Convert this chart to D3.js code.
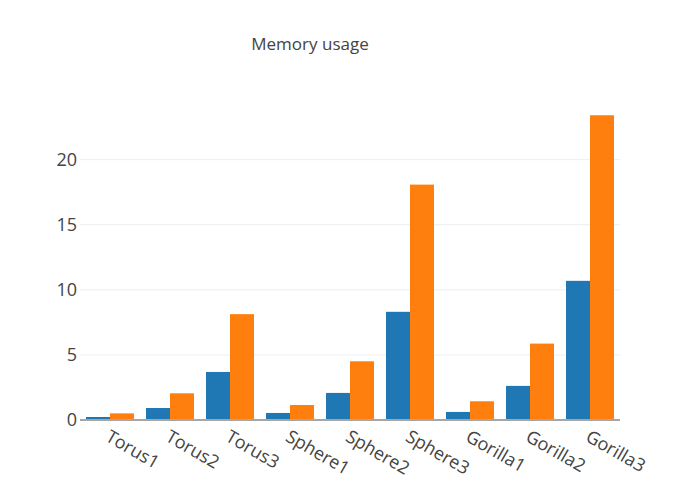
<!DOCTYPE html>
<html><head><meta charset="utf-8">
<script src="https://cdn.jsdelivr.net/npm/d3@7"></script>
<style>body{margin:0;background:#fff}svg{display:block}text{font-family:"Open Sans",sans-serif}</style>
</head><body>
<svg id="c" width="700" height="500"></svg>
<script>
const categories = ["Torus1","Torus2","Torus3","Sphere1","Sphere2","Sphere3","Gorilla1","Gorilla2","Gorilla3"];
const seriesNames = ["Series A","Series B"];
const seriesA = [0.23, 0.92, 3.69, 0.54, 2.08, 8.31, 0.62, 2.62, 10.69];
const seriesB = [0.51, 2.05, 8.13, 1.15, 4.51, 18.08, 1.44, 5.87, 23.41];
const yTicks = [0, 5, 10, 15, 20];
const colors = ["#1f77b4", "#ff7f0e"];
const title = "Memory usage";

const svg = d3.select("#c");
const m = {l:80, r:80, t:100, b:80}, W = 700, H = 500;
const x = d3.scaleBand().domain(categories).range([m.l, W - m.r]).paddingInner(0.2).paddingOuter(0.1);
const x1 = d3.scaleBand().domain([0,1]).range([0, x.bandwidth()]);
const yMax = d3.max(seriesB.concat(seriesA)) * 1.05;
const y = d3.scaleLinear().domain([0, yMax]).range([H - m.b, m.t]);

// grid
svg.append("g").selectAll("line").data(yTicks.filter(d => d > 0)).join("line")
  .attr("x1", m.l).attr("x2", W - m.r)
  .attr("y1", d => y(d)).attr("y2", d => y(d))
  .attr("stroke", "#eee").attr("stroke-width", 1);

// bars
const series = [seriesA, seriesB];
series.forEach((vals, si) => {
  svg.append("g").selectAll("rect").data(vals).join("rect")
    .attr("x", (d, i) => x(categories[i]) + x1(si))
    .attr("width", x1.bandwidth())
    .attr("y", d => y(d))
    .attr("height", d => y(0) - y(d))
    .attr("fill", colors[si]);
});

// zero line
svg.append("line").attr("x1", m.l).attr("x2", W - m.r)
  .attr("y1", y(0)).attr("y2", y(0)).attr("stroke", "#a6a6a6").attr("stroke-width", 2);

// y axis labels
const yAxis = d3.axisLeft(y).tickValues(yTicks).tickSize(0).tickPadding(3);
const gy = svg.append("g").attr("transform", `translate(${m.l},0)`).call(yAxis);
gy.select(".domain").remove();
gy.selectAll("text").attr("font-size", 18).attr("fill", "#444").attr("font-family", "Open Sans");

// x axis labels
const xAxis = d3.axisBottom(x).tickSize(0).tickPadding(0);
const gx = svg.append("g").attr("transform", `translate(0,${y(0)})`).call(xAxis);
gx.select(".domain").remove();
gx.selectAll("text")
  .attr("font-size", 18).attr("fill", "#444").attr("font-family", "Open Sans")
  .attr("text-anchor", "start").attr("dy", null).attr("y", 0)
  .attr("transform", "translate(2,7) rotate(30)")
  .attr("dominant-baseline", "hanging");

// title
svg.append("text").attr("x", 310).attr("y", 50).attr("text-anchor", "middle")
  .attr("font-size", 17).attr("fill", "#444").text(title);
</script>
</body></html>
